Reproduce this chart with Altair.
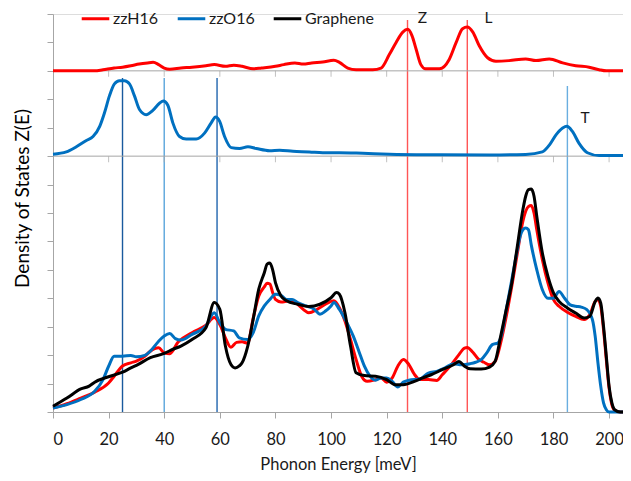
import altair as alt
import pandas as pd

# ---------------- data ----------------
SERIES = ["zzH16", "zzO16", "Graphene"]
COLORS = ["#ff0000", "#0070c0", "#000000"]

# total DOS, bottom panel
h_E = [0, 5, 10, 15, 20, 22, 25, 28, 30, 33, 35, 38, 40, 42, 45, 50, 55, 58, 60, 62, 64, 66, 68, 70,
       72, 74, 76, 77, 78, 79, 80, 82, 85, 88, 90, 92, 95, 98, 101, 103, 105, 107, 109, 111, 113, 116,
       118, 120, 122, 124, 126, 128, 130, 132, 135, 138, 140, 143, 146, 148, 149, 151, 153, 155, 157,
       159, 161, 163, 165, 167, 169, 170, 171, 172, 173, 174, 176, 178, 180, 182, 185, 188, 191, 193,
       195, 196, 197, 198, 199, 200, 201, 202, 204, 205]
h_Z = [0.14, 0.29, 0.49, 0.7, 1.02, 1.26, 1.62, 1.73, 1.79, 1.96, 2.14, 2.26, 2.08, 2.05, 2.46, 2.79,
       3.05, 3.32, 3.08, 2.61, 2.28, 2.45, 2.47, 2.42, 3.3, 4.08, 4.4, 4.53, 4.5, 4.2, 3.96, 3.87, 3.91,
       3.79, 3.61, 3.49, 3.61, 3.79, 3.91, 3.67, 3.2, 2.55, 1.85, 1.26, 1.08, 1.14, 1.2, 1.05, 1.2, 1.61,
       1.85, 1.67, 1.32, 1.14, 1.14, 1.11, 1.31, 1.63, 2.02, 2.25, 2.27, 2.1, 1.86, 1.75, 1.66, 1.78,
       2.43, 3.36, 4.42, 5.59, 6.71, 7.06, 7.23, 7.26, 7.0, 6.41, 5.36, 4.54, 3.95, 3.72, 3.51, 3.36,
       3.25, 3.42, 3.89, 3.95, 3.72, 2.9, 1.84, 0.84, 0.26, 0.06, 0.0, 0.0]

o_E = [0, 5, 10, 15, 18, 20, 22, 25, 28, 30, 33, 35, 38, 40, 42, 44, 46, 50, 55, 58, 60, 62, 65, 67,
       70, 72, 74, 76, 78, 80, 82, 84, 86, 88, 91, 94, 96, 98, 100, 101, 103, 106, 108, 110, 112, 114,
       116, 118, 120, 122, 124, 126, 128, 132, 135, 138, 141, 144, 147, 150, 152, 154, 156, 158, 160,
       161, 163, 165, 167, 168, 169, 170, 171, 172, 174, 176, 178, 180, 182, 184, 186, 188, 190, 192,
       194, 195, 196, 197, 198, 199, 200, 205]
o_Z = [0.14, 0.26, 0.44, 0.73, 1.14, 1.61, 1.96, 1.96, 1.99, 1.94, 1.99, 2.14, 2.49, 2.67, 2.76, 2.58,
       2.53, 2.73, 3.02, 3.49, 3.14, 2.91, 2.85, 2.61, 2.55, 2.79, 3.38, 3.73, 3.96, 4.14, 4.1, 3.96,
       3.96, 3.85, 3.73, 3.61, 3.44, 3.55, 3.73, 3.85, 3.61, 3.08, 2.67, 2.14, 1.61, 1.26, 1.12, 1.2,
       1.2, 1.08, 0.88, 1.05, 1.12, 1.16, 1.37, 1.43, 1.55, 1.7, 1.66, 1.7, 1.75, 1.84, 2.08, 2.37, 2.43,
       2.6, 3.6, 4.65, 5.71, 6.18, 6.41, 6.47, 6.41, 5.88, 5.0, 4.3, 4.0, 4.0, 4.24, 4.0, 3.77, 3.72,
       3.69, 3.6, 3.25, 2.66, 1.72, 0.9, 0.32, 0.08, 0.0, 0.0]

g_E = [0, 5, 10, 13, 15, 20, 25, 28, 30, 35, 40, 43, 46, 50, 55, 58, 60, 62, 64, 65.5, 67, 68, 70, 72,
       74, 76, 77, 78, 79, 80, 82, 84, 88, 92, 96, 100, 102, 103, 105, 107, 109, 112, 116, 120, 123,
       126, 130, 133, 136, 140, 144, 146, 148, 150, 154, 157, 159, 161, 163, 165, 167, 169, 170, 171,
       172, 173, 174, 176, 178, 180, 182, 185, 188, 191, 193, 195, 196, 197, 198, 199, 200, 201, 202,
       204, 205]
g_Z = [0.2, 0.49, 0.81, 0.91, 1.05, 1.24, 1.4, 1.55, 1.64, 1.91, 2.06, 2.2, 2.32, 2.55, 2.96, 3.85,
       3.61, 2.32, 1.67, 1.55, 1.62, 1.73, 2.3, 3.26, 4.32, 4.9, 5.2, 5.24, 5.0, 4.55, 4.08, 3.91, 3.79,
       3.71, 3.79, 4.02, 4.2, 4.14, 3.49, 2.32, 1.38, 1.28, 1.26, 1.14, 0.96, 0.96, 1.08, 1.2, 1.31,
       1.49, 1.66, 1.78, 1.61, 1.52, 1.51, 1.58, 1.78, 2.66, 3.6, 4.54, 5.83, 7.12, 7.59, 7.82, 7.84,
       7.59, 6.88, 5.59, 4.77, 4.19, 3.89, 3.66, 3.48, 3.31, 3.36, 3.89, 4.01, 3.83, 3.01, 1.96, 0.9,
       0.32, 0.08, 0.0, 0.0]

# partial DOS, top (zzH16) and middle (zzO16) panels
th_E = [0, 15, 18, 22, 25, 28, 31, 34, 36, 38, 40, 42, 46, 50, 55, 58, 62, 65, 68, 72, 75, 80, 83, 87,
        90, 93, 97, 101, 103, 106, 109, 115, 118, 121, 123.4, 125.8, 127.6, 129.1, 130.6, 132.3, 134,
        139, 142.5, 145, 147.3, 149, 151, 153.3, 156.3, 159.3, 164, 170, 173.7, 178.5, 183.3, 188,
        192.8, 196.4, 199, 205]
th_Z = [0, 0, 0.04, 0.1, 0.13, 0.18, 0.24, 0.28, 0.3, 0.22, 0.1, 0.06, 0.1, 0.13, 0.18, 0.22, 0.16,
        0.2, 0.16, 0.07, 0.1, 0.16, 0.22, 0.28, 0.24, 0.28, 0.31, 0.37, 0.3, 0.1, 0.04, 0.04, 0.1, 0.58,
        1.0, 1.36, 1.46, 1.24, 0.76, 0.22, 0.07, 0.07, 0.4, 1.0, 1.48, 1.54, 1.36, 0.88, 0.46, 0.34,
        0.36, 0.42, 0.36, 0.42, 0.28, 0.18, 0.13, 0.04, 0, 0]

mo_E = [0, 4.8, 8.4, 12, 14.4, 16.8, 18.5, 20.3, 22.1, 23.9, 25.7, 27.5, 29.3, 31.1, 33.5, 35.9, 38.3,
        39.7, 41.3, 43.1, 45.5, 47.9, 51.5, 54.5, 56.9, 58.5, 59.9, 61.7, 64.1, 67.1, 70.1, 73.1, 77.9,
        81.5, 86.3, 92.2, 97, 103, 111.4, 121, 139, 157, 170, 176, 178.5, 180.9, 183.3, 184.8, 186.8,
        189.2, 192.2, 196.4, 205]
mo_Z = [0.07, 0.15, 0.33, 0.55, 0.69, 1.05, 1.52, 2.12, 2.54, 2.65, 2.65, 2.54, 2.12, 1.64, 1.46, 1.61,
        1.86, 1.94, 1.79, 1.17, 0.69, 0.6, 0.6, 0.81, 1.17, 1.38, 1.23, 0.69, 0.3, 0.27, 0.33, 0.27,
        0.19, 0.21, 0.17, 0.15, 0.12, 0.12, 0.1, 0.07, 0.05, 0.04, 0.06, 0.15, 0.39, 0.75, 0.99, 1.05,
        0.87, 0.45, 0.12, 0.02, 0.02]

TOP_OFFSET = 12
MID_OFFSET = 9

# marker lines and labels
vline_E = [25, 40, 59, 127.5, 149, 185]
vline_top = [11.75, 11.75, 11.75, 13.79, 13.79, 11.47]
vline_col = ["#1a5a9e", "#5aa5dc", "#1f64ae", "#ff5555", "#ff5555", "#6aaee0"]

label_text = ["Z", "L", "T"]
label_E = [132.9, 156.6, 191.4]
label_Z = [13.68, 13.68, 10.15]

x_ticks = list(range(0, 201, 20))
y_ticks = list(range(0, 15))
X_MAX = 205
Y_MAX = 14

FONT = "Lato"
GRAY = "#a6a6a6"

# ---------------- frames ----------------
rows = []
for name, E, Z in zip(SERIES, [h_E, o_E, g_E], [h_Z, o_Z, g_Z]):
    rows += [{"series": name, "E": e, "Z": z} for e, z in zip(E, Z)]
bottom = pd.DataFrame(rows)

top = pd.DataFrame({"E": th_E, "Z": [z + TOP_OFFSET for z in th_Z]})
mid = pd.DataFrame({"E": mo_E, "Z": [z + MID_OFFSET for z in mo_Z]})

vl = pd.DataFrame({"E": vline_E, "Z": [0] * len(vline_E), "Z2": vline_top, "col": vline_col})
base_lines = pd.DataFrame({"Z": [MID_OFFSET, TOP_OFFSET], "E": [0, 0], "E2": [X_MAX, X_MAX]})
base_ticks = pd.DataFrame([{"E": e, "Z": lvl} for lvl in [MID_OFFSET, TOP_OFFSET] for e in x_ticks[1:]])
labels = pd.DataFrame({"t": label_text, "E": label_E, "Z": label_Z})

xscale = alt.Scale(domain=[0, X_MAX], nice=False, zero=False)
yscale = alt.Scale(domain=[0, Y_MAX], nice=False, zero=False)

X = alt.X("E:Q", scale=xscale, title="Phonon Energy [meV]",
          axis=alt.Axis(values=x_ticks, grid=False, domainColor=GRAY, tickColor=GRAY, tickSize=6,
                        labelFont=FONT, labelFontSize=16.5, labelColor="#1a1a1a", labelPadding=13,
                        titleFont=FONT, titleFontSize=16.5, titleFontWeight="normal", titleColor="#1a1a1a",
                        titlePadding=9))
Y = alt.Y("Z:Q", scale=yscale, title="Density of States Z(E)",
          axis=alt.Axis(values=y_ticks, labels=False, grid=False, domainColor=GRAY, tickColor=GRAY,
                        tickSize=6, titleFont=FONT, titleFontSize=19, titleFontWeight="normal",
                        titleColor="#000000", titleX=-31, titleY=184, titleBaseline="middle",
                        titleAlign="center"))

vlines = alt.Chart(vl).mark_rule(strokeWidth=1.4).encode(
    x=X, y=Y, y2="Z2:Q", color=alt.Color("col:N", scale=None))

hlines = alt.Chart(base_lines).mark_rule(strokeWidth=1, color=GRAY).encode(
    x=X, x2="E2:Q", y=Y)

hticks = alt.Chart(base_ticks).mark_tick(orient="vertical", size=6, thickness=1, yOffset=3,
                                         color=GRAY).encode(x=X, y=Y)

top_line = alt.Chart(top).mark_line(color="#ff0000", strokeWidth=3, interpolate="monotone").encode(x=X, y=Y)
mid_line = alt.Chart(mid).mark_line(color="#0070c0", strokeWidth=3, interpolate="monotone").encode(x=X, y=Y)

bottom_lines = alt.Chart(bottom).mark_line(strokeWidth=3, interpolate="monotone").encode(
    x=X, y=Y,
    color=alt.Color("series:N", sort=SERIES,
                    scale=alt.Scale(domain=SERIES, range=COLORS),
                    legend=alt.Legend(orient="none", legendX=27, legendY=-11, direction="horizontal",
                                      title=None, symbolType="stroke", symbolStrokeWidth=3,
                                      symbolSize=760, labelFont=FONT, labelFontSize=16,
                                      labelColor="#1a1a1a", labelOffset=2, columnPadding=12)),
    detail="series:N")

texts = alt.Chart(labels).mark_text(font=FONT, fontSize=15.5, color="#1a1a1a", align="center",
                                    baseline="alphabetic").encode(x=X, y=Y, text="t:N")

chart = alt.layer(vlines, hlines, hticks, top_line, mid_line, bottom_lines, texts).properties(
    width=570, height=398,
    autosize=alt.AutoSizeParams(type="none"),
    padding={"left": 45, "top": 6, "right": 0, "bottom": 61},
).configure_view(stroke=None).configure(background="white")

chart.save("out.html", embed_options={"renderer": "svg", "actions": False})
